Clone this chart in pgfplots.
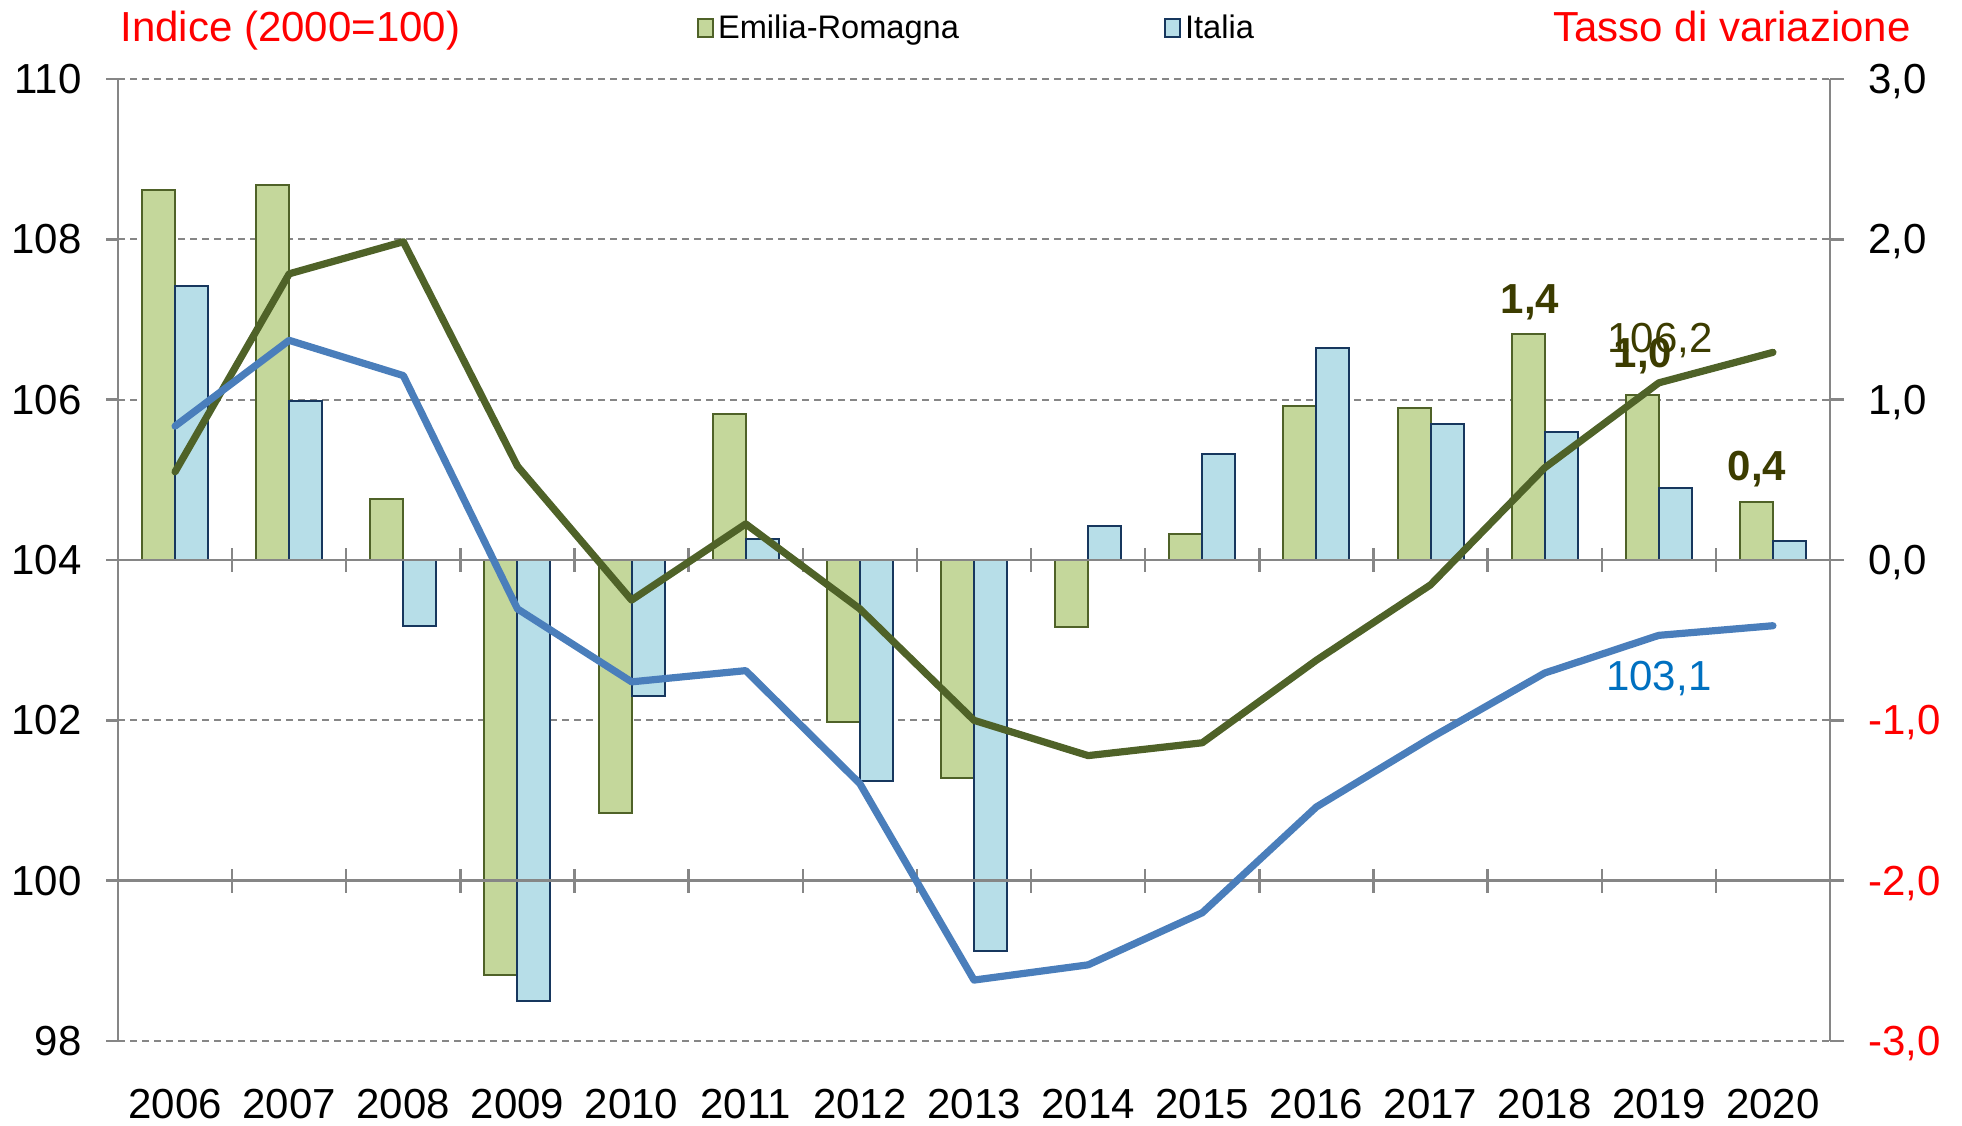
\documentclass[border=0pt]{standalone}
\usepackage{fontspec}
\setmainfont{Liberation Sans}
\usepackage{pgfplots}
\pgfplotsset{compat=1.18}
\definecolor{ergreen}{RGB}{196,215,155}
\definecolor{eredge}{RGB}{79,98,40}
\definecolor{itblue}{RGB}{183,222,232}
\definecolor{itedge}{RGB}{23,55,94}
\definecolor{erline}{RGB}{79,98,40}
\definecolor{itline}{RGB}{74,126,187}
\definecolor{lbl}{RGB}{60,60,0}
\definecolor{axgray}{RGB}{134,134,134}
\definecolor{lblblue}{RGB}{0,112,192}
\begin{document}
\begin{tikzpicture}[font=\fontsize{21}{25}\selectfont]
\useasboundingbox (0,0) rectangle (981pt,562.5pt);
% ---------- bars: rates (right axis) ----------
\begin{axis}[
  at={(59pt,42pt)}, anchor=south west,
  width=856pt, height=481pt, scale only axis,
  xmin=-0.5, xmax=14.5, ymin=-3, ymax=3,
  axis x line=none, axis y line*=right,
  y axis line style={axgray, line width=1.2pt, -},
  ytick={-3,-2,-1,0,1,2,3},
  yticklabels={{\textcolor{red}{-3,0}},{\textcolor{red}{-2,0}},{\textcolor{red}{-1,0}},{0,0},{1,0},{2,0},{3,0}},
  ymajorgrids,
  major grid style={axgray, line width=1pt, dash pattern=on 3.5pt off 2.5pt},
  tick align=outside, major tick length=7pt,
  tick style={axgray, line width=1.2pt},
  yticklabel style={font=\fontsize{21}{25}\selectfont, anchor=west, inner sep=0pt, text depth=0pt, xshift=12pt},
  ybar=0pt, bar width=16.5pt,
  legend style={at={(axis description cs:0.338,1.053)}, anchor=west, draw=none, fill=none,
    inner sep=0pt, legend columns=2, font=\fontsize{16.3}{19}\selectfont,
    /tikz/every even column/.append style={column sep=100.5pt}},
  legend image code/.code={\draw[#1, line width=1pt] (0pt,-4.3pt) rectangle (7.5pt,4.3pt);},
]
\addplot[fill=ergreen, draw=eredge, line width=1pt] coordinates {
(0,2.31) (1,2.34) (2,0.38) (3,-2.59) (4,-1.58) (5,0.91) (6,-1.01) (7,-1.36)
(8,-0.42) (9,0.16) (10,0.96) (11,0.95) (12,1.41) (13,1.03) (14,0.36)};
\addplot[fill=itblue, draw=itedge, line width=1pt] coordinates {
(0,1.71) (1,0.99) (2,-0.41) (3,-2.75) (4,-0.85) (5,0.13) (6,-1.38) (7,-2.44)
(8,0.21) (9,0.66) (10,1.32) (11,0.85) (12,0.80) (13,0.45) (14,0.12)};
\legend{Emilia-Romagna, Italia}
\node[text=lbl, font=\fontsize{21}{25}\selectfont\bfseries] at (axis cs:11.87,1.61) {1,4};
\node[text=lbl, font=\fontsize{21}{25}\selectfont\bfseries] at (axis cs:12.86,1.27) {1,0};
\node[text=lbl, font=\fontsize{21}{25}\selectfont\bfseries] at (axis cs:13.86,0.57) {0,4};
\end{axis}
% ---------- lines: index (left axis) ----------
\begin{axis}[
  at={(59pt,42pt)}, anchor=south west,
  width=856pt, height=481pt, scale only axis,
  xmin=-0.5, xmax=14.5, ymin=98, ymax=110,
  axis y line*=left, axis x line*=bottom,
  x axis line style={draw=none},
  y axis line style={axgray, line width=1.2pt, -},
  xtick={0,1,2,3,4,5,6,7,8,9,10,11,12,13,14},
  xticklabels={2006,2007,2008,2009,2010,2011,2012,2013,2014,2015,2016,2017,2018,2019,2020},
  xticklabel style={font=\fontsize{21}{25}\selectfont, anchor=base, yshift=-32.5pt},
  ytick={98,100,102,104,106,108,110},
  yticklabels={98,100,102,104,106,108,110},
  tick align=outside, major tick length=6pt,
  tick style={draw=none},
  yticklabel style={font=\fontsize{21}{25}\selectfont, anchor=east, inner sep=0pt, text depth=0pt, xshift=-12pt},
  clip=false,
]
\pgfplotsinvokeforeach{98,100,102,104,106,108,110}{
  \draw[axgray, line width=1.2pt] (axis cs:-0.5,#1) -- ++(-6pt,0pt);
}
\draw[axgray, line width=1.2pt] (axis cs:-0.5,104) -- (axis cs:14.5,104);
\draw[axgray, line width=1.2pt] (axis cs:-0.5,100) -- (axis cs:14.5,100);
\pgfplotsinvokeforeach{0.5,1.5,2.5,3.5,4.5,5.5,6.5,7.5,8.5,9.5,10.5,11.5,12.5,13.5}{
  \draw[axgray, line width=1.2pt] (axis cs:#1,104) ++(0pt,-6pt) -- ++(0pt,12pt);
  \draw[axgray, line width=1.2pt] (axis cs:#1,100) ++(0pt,-6pt) -- ++(0pt,12pt);
}
\addplot[erline, line width=3.6pt, line cap=round, line join=round] coordinates {
(0,105.10) (1,107.57) (2,107.97) (3,105.17) (4,103.50) (5,104.45) (6,103.39) (7,102.00)
(8,101.56) (9,101.72) (10,102.75) (11,103.69) (12,105.15) (13,106.21) (14,106.59)};
\addplot[itline, line width=3.6pt, line cap=round, line join=round] coordinates {
(0,105.67) (1,106.74) (2,106.30) (3,103.39) (4,102.48) (5,102.62) (6,101.21) (7,98.76)
(8,98.95) (9,99.60) (10,100.92) (11,101.78) (12,102.59) (13,103.06) (14,103.18)};
\node[text=lbl, font=\fontsize{21}{25}\selectfont] at (axis cs:13.01,106.74) {106,2};
\node[text=lblblue, font=\fontsize{21}{25}\selectfont] at (axis cs:13.0,102.52) {103,1};
\end{axis}
\node[anchor=base west, inner sep=0pt, text=red] at (60pt,541.5pt) {Indice (2000=100)};
\node[anchor=base east, inner sep=0pt, text=red] at (955.5pt,541.5pt) {Tasso di variazione};
\end{tikzpicture}
\end{document}
